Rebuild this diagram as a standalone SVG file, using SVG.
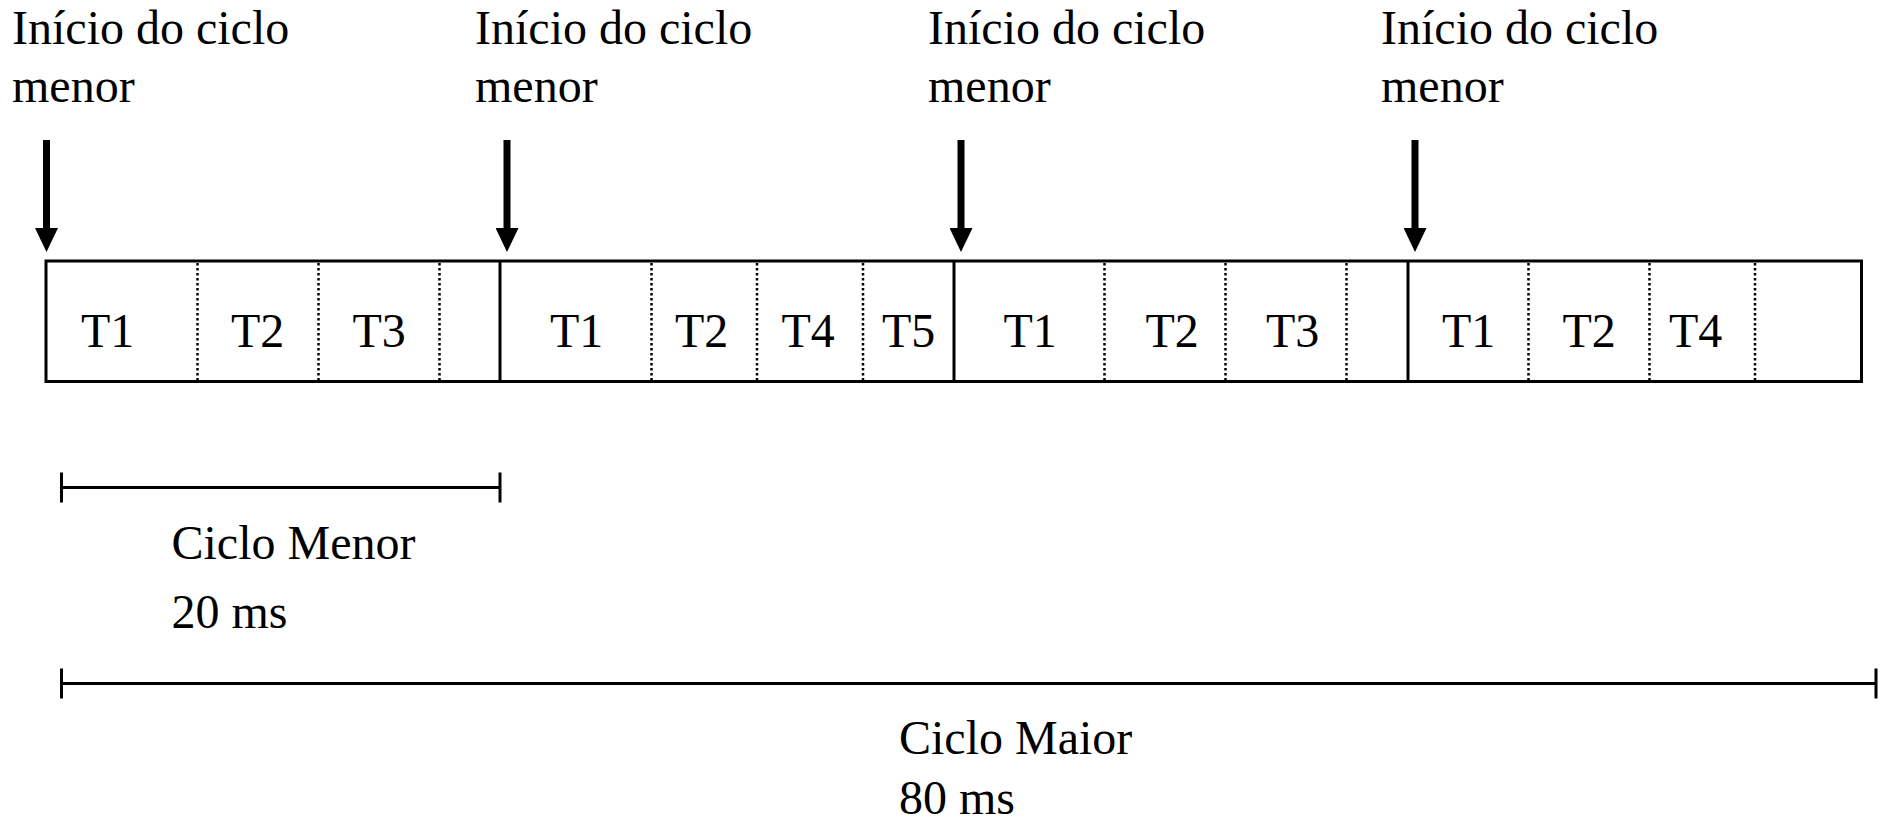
<svg xmlns="http://www.w3.org/2000/svg" width="1881" height="826" viewBox="0 0 1881 826">
  <style>
    text { font-family: "Liberation Serif", "Times New Roman", serif; font-size: 48px; fill: #000; }
    .frame { fill: #fff; stroke: #000; stroke-width: 3; }
    .solid { stroke: #000; stroke-width: 3; }
    .dot { stroke: #000; stroke-width: 2.5; stroke-dasharray: 2.5 2.5; }
    .shaft { stroke: #000; stroke-width: 7; }
    .dim { stroke: #000; stroke-width: 3; fill: none; }
  </style>
  <defs>
    <!-- triangular head placed just beyond the end of the shaft -->
    <marker id="head" viewBox="0 0 24 23" refX="0" refY="11.5" markerWidth="24" markerHeight="23" markerUnits="userSpaceOnUse" orient="auto">
      <path d="M0,0 L24,11.5 L0,23 Z" fill="#000"/>
    </marker>
  </defs>

  <rect width="1881" height="826" fill="#fff"/>

  <!-- cycle start labels -->
  <g id="label-start-1"><text x="12" y="44">Início do ciclo</text><text x="12" y="102">menor</text></g>
  <g id="label-start-2"><text x="475" y="44">Início do ciclo</text><text x="475" y="102">menor</text></g>
  <g id="label-start-3"><text x="928" y="44">Início do ciclo</text><text x="928" y="102">menor</text></g>
  <g id="label-start-4"><text x="1381" y="44">Início do ciclo</text><text x="1381" y="102">menor</text></g>

  <!-- timeline frame -->
  <g id="timeline">
    <rect class="frame" x="46" y="261" width="1815.5" height="120.5"/>
    <line class="solid" x1="500" y1="261" x2="500" y2="381.5"/>
    <line class="solid" x1="954" y1="261" x2="954" y2="381.5"/>
    <line class="solid" x1="1408" y1="261" x2="1408" y2="381.5"/>
    <line class="dot" x1="197.5" y1="263" x2="197.5" y2="380"/>
    <line class="dot" x1="318.5" y1="263" x2="318.5" y2="380"/>
    <line class="dot" x1="439.5" y1="263" x2="439.5" y2="380"/>
    <line class="dot" x1="651.5" y1="263" x2="651.5" y2="380"/>
    <line class="dot" x1="757" y1="263" x2="757" y2="380"/>
    <line class="dot" x1="863" y1="263" x2="863" y2="380"/>
    <line class="dot" x1="1104.5" y1="263" x2="1104.5" y2="380"/>
    <line class="dot" x1="1225.5" y1="263" x2="1225.5" y2="380"/>
    <line class="dot" x1="1346.5" y1="263" x2="1346.5" y2="380"/>
    <line class="dot" x1="1528.5" y1="263" x2="1528.5" y2="380"/>
    <line class="dot" x1="1649.5" y1="263" x2="1649.5" y2="380"/>
    <line class="dot" x1="1755" y1="263" x2="1755" y2="380"/>
  </g>

  <!-- task slots -->
  <g id="cycle-1">
    <text x="81" y="347">T1</text>
    <text x="231" y="347">T2</text>
    <text x="352.5" y="347">T3</text>
  </g>
  <g id="cycle-2">
    <text x="550" y="347">T1</text>
    <text x="675" y="347">T2</text>
    <text x="781.5" y="347">T4</text>
    <text x="882" y="347">T5</text>
  </g>
  <g id="cycle-3">
    <text x="1003.5" y="347">T1</text>
    <text x="1145.5" y="347">T2</text>
    <text x="1266" y="347">T3</text>
  </g>
  <g id="cycle-4">
    <text x="1442" y="347">T1</text>
    <text x="1562.5" y="347">T2</text>
    <text x="1669" y="347">T4</text>
  </g>

  <!-- arrows marking the start of each minor cycle -->
  <g id="connectors">
    <line class="shaft" x1="46.5" y1="140" x2="46.5" y2="228" marker-end="url(#head)"/>
    <line class="shaft" x1="507" y1="140" x2="507" y2="228" marker-end="url(#head)"/>
    <line class="shaft" x1="961" y1="140" x2="961" y2="228" marker-end="url(#head)"/>
    <line class="shaft" x1="1415" y1="140" x2="1415" y2="228" marker-end="url(#head)"/>
  </g>

  <!-- minor cycle span -->
  <g id="minor-cycle">
    <path class="dim" d="M61.5,487.5 H500 M61.5,472.5 V502.5 M500,472.5 V502.5"/>
    <text x="171.5" y="559">Ciclo Menor</text>
    <text x="171.5" y="627.5">20 ms</text>
  </g>

  <!-- major cycle span -->
  <g id="major-cycle">
    <path class="dim" d="M61.5,683.5 H1876 M61.5,668.5 V698.5 M1876,668.5 V698.5"/>
    <text x="899" y="754">Ciclo Maior</text>
    <text x="899" y="814">80 ms</text>
  </g>
</svg>
